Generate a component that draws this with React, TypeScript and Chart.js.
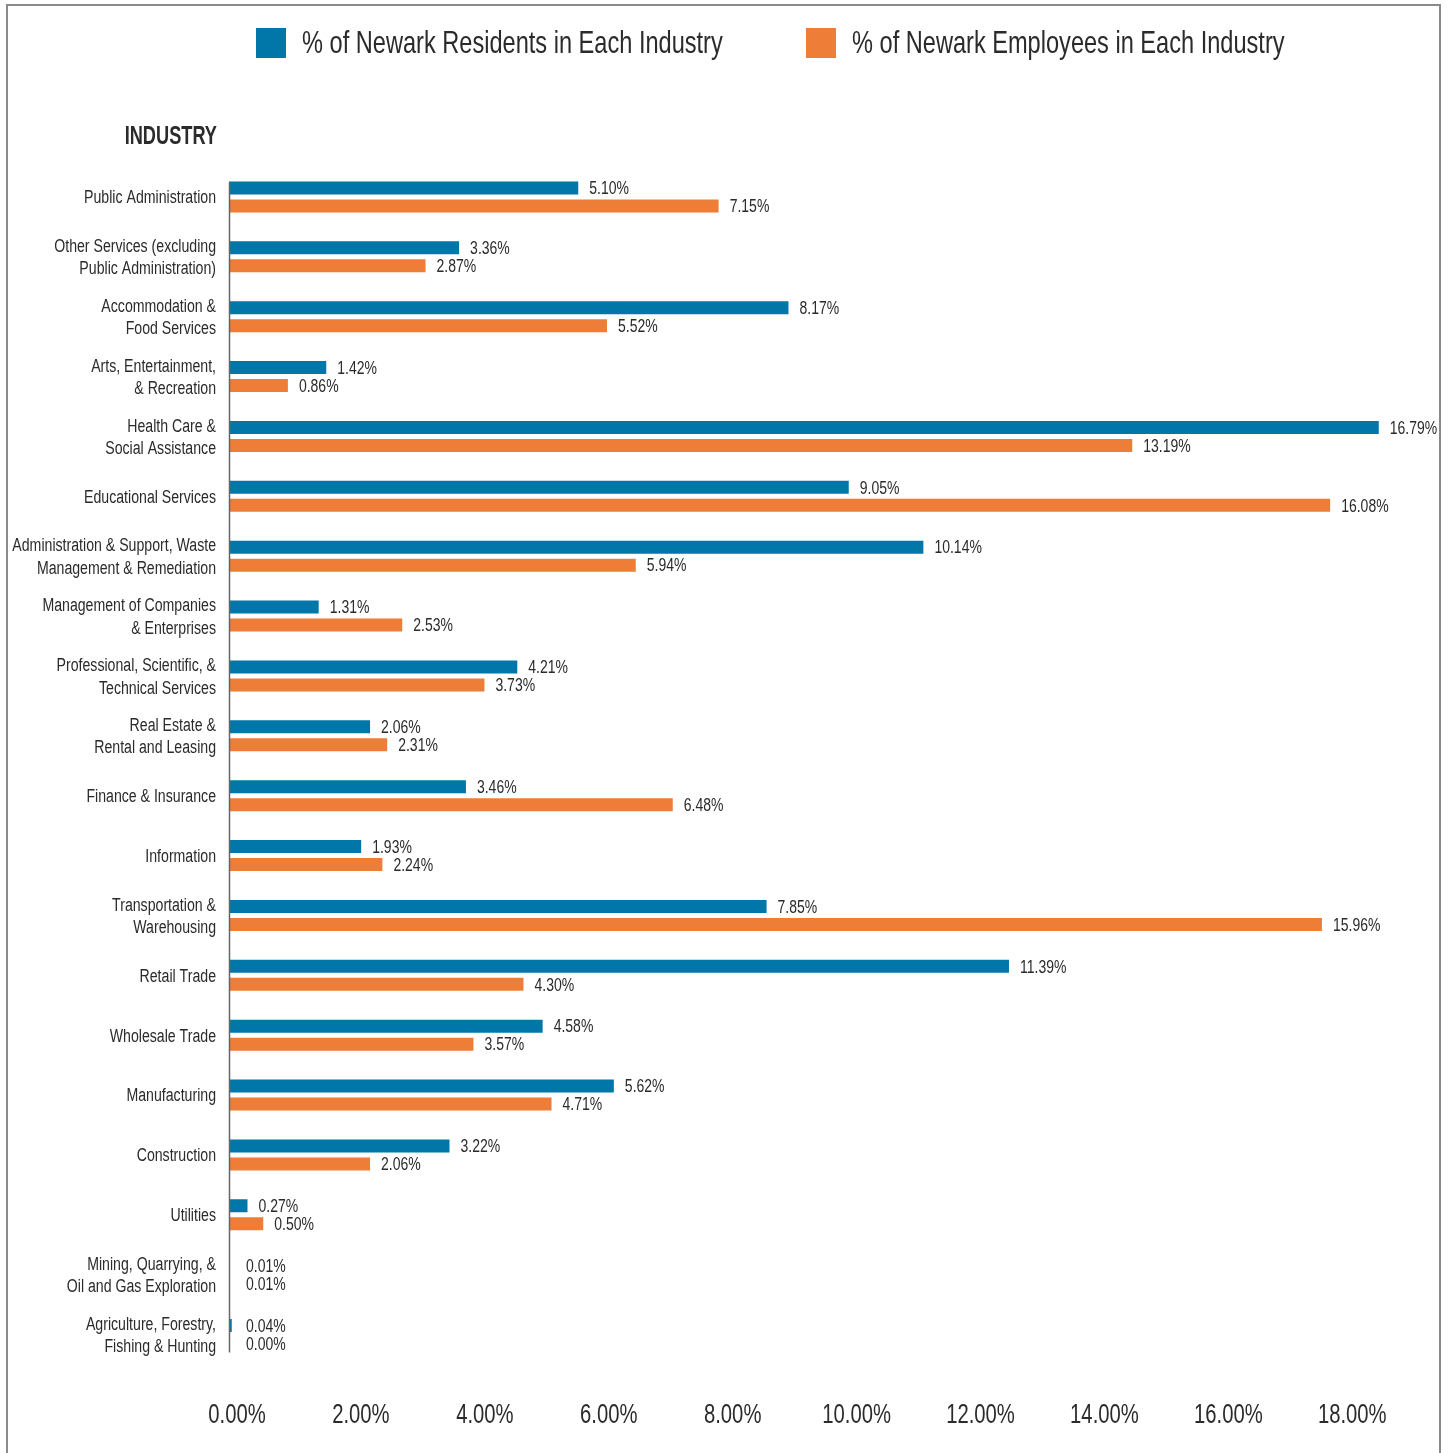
import React, { useEffect, useRef } from 'react';
import { Chart, registerables } from 'chart.js';

Chart.register(...registerables);

const CATEGORIES: string[][] = [
  ['Public Administration'],
  ['Other Services (excluding', 'Public Administration)'],
  ['Accommodation &', 'Food Services'],
  ['Arts, Entertainment,', '& Recreation'],
  ['Health Care &', 'Social Assistance'],
  ['Educational Services'],
  ['Administration & Support, Waste', 'Management & Remediation'],
  ['Management of Companies', '& Enterprises'],
  ['Professional, Scientific, &', 'Technical Services'],
  ['Real Estate &', 'Rental and Leasing'],
  ['Finance & Insurance'],
  ['Information'],
  ['Transportation &', 'Warehousing'],
  ['Retail Trade'],
  ['Wholesale Trade'],
  ['Manufacturing'],
  ['Construction'],
  ['Utilities'],
  ['Mining, Quarrying, &', 'Oil and Gas Exploration'],
  ['Agriculture, Forestry,', 'Fishing & Hunting'],
];

const RESIDENTS = [5.10, 3.36, 8.17, 1.42, 16.79, 9.05, 10.14, 1.31, 4.21, 2.06, 3.46, 1.93, 7.85, 11.39, 4.58, 5.62, 3.22, 0.27, 0.01, 0.04];
const EMPLOYEES = [7.15, 2.87, 5.52, 0.86, 13.19, 16.08, 5.94, 2.53, 3.73, 2.31, 6.48, 2.24, 15.96, 4.30, 3.57, 4.71, 2.06, 0.50, 0.01, 0.00];

const SERIES_LABELS = ['% of Newark Residents in Each Industry', '% of Newark Employees in Each Industry'];
const SERIES_COLORS = ['#0077a8', '#ee7d37'];
const AXIS_TICKS = [0, 2, 4, 6, 8, 10, 12, 14, 16, 18];
const AXIS_TITLE = 'INDUSTRY';

const FONT = '"Liberation Sans", Arial, sans-serif';
const TEXT = '#2b2b2b';

// draw horizontally condensed text (mimics a condensed typeface)
function condensedText(
  ctx: CanvasRenderingContext2D,
  text: string,
  x: number,
  y: number,
  size: number,
  sx: number,
  align: CanvasTextAlign,
  bold = false,
) {
  ctx.save();
  ctx.translate(x, y);
  ctx.scale(sx, 1);
  ctx.font = `${bold ? 'bold ' : ''}${size}px ${FONT}`;
  ctx.textAlign = align;
  ctx.textBaseline = 'alphabetic';
  ctx.fillStyle = TEXT;
  ctx.fillText(text, 0, 0);
  ctx.restore();
}

const decorPlugin = {
  id: 'decor',
  beforeDraw(chart: any) {
    const ctx = chart.ctx;
    ctx.save();
    // frame
    ctx.strokeStyle = '#8a8a8a';
    ctx.lineWidth = 2;
    ctx.beginPath();
    ctx.moveTo(7, 1460);
    ctx.lineTo(7, 5);
    ctx.lineTo(1440, 5);
    ctx.lineTo(1440, 1460);
    ctx.stroke();
    // legend
    const boxX = [256, 806];
    chart.data.datasets.forEach((ds: any, i: number) => {
      ctx.fillStyle = ds.backgroundColor;
      ctx.fillRect(boxX[i], 28, 30, 30);
      condensedText(ctx, ds.label, boxX[i] + 46, 53, 32, 0.737, 'left');
    });
    // axis title
    condensedText(ctx, AXIS_TITLE, 217, 144, 26, 0.7, 'right', true);
    ctx.restore();
  },
  afterDatasetsDraw(chart: any) {
    const ctx = chart.ctx;
    const area = chart.chartArea;
    const yScale = chart.scales.y;
    const x2 = chart.scales.x2;
    ctx.save();
    // y axis line
    const first = yScale.getPixelForValue(0);
    const last = yScale.getPixelForValue(CATEGORIES.length - 1);
    ctx.strokeStyle = '#666';
    ctx.lineWidth = 1.5;
    ctx.beginPath();
    ctx.moveTo(area.left + 0.5, first - 14);
    ctx.lineTo(area.left + 0.5, last + 18);
    ctx.stroke();
    // category labels
    const lh = 22.5;
    CATEGORIES.forEach((lines, i) => {
      const cy = yScale.getPixelForValue(i);
      const top = cy - ((lines.length - 1) * lh) / 2;
      lines.forEach((line, j) => {
        condensedText(ctx, line, 216, top + j * lh + 6.4, 18, 0.785, 'right');
      });
    });
    // x tick labels
    AXIS_TICKS.forEach((v) => {
      condensedText(ctx, v.toFixed(2) + '%', x2.getPixelForValue(v), 1422.5, 27, 0.75, 'center');
    });
    // value labels
    chart.data.datasets.forEach((ds: any, di: number) => {
      const meta = chart.getDatasetMeta(di);
      meta.data.forEach((bar: any, i: number) => {
        const v = ds.data[i];
        const x = Math.max(bar.x, area.left + 6) + 11;
        condensedText(ctx, v.toFixed(2) + '%', x, bar.y + 6.3, 17.5, 0.8, 'left');
      });
    });
    ctx.restore();
  },
};

export default function App() {
  const ref = useRef<HTMLCanvasElement>(null);
  useEffect(() => {
    if (!ref.current) return;
    const chart = new Chart(ref.current, {
      type: 'bar',
      data: {
        labels: CATEGORIES,
        datasets: [
          {
            label: SERIES_LABELS[0],
            data: RESIDENTS,
            backgroundColor: SERIES_COLORS[0],
            xAxisID: 'x',
            categoryPercentage: 0.601,
            barPercentage: 0.722,
          },
          {
            label: SERIES_LABELS[1],
            data: EMPLOYEES,
            backgroundColor: SERIES_COLORS[1],
            xAxisID: 'x',
            categoryPercentage: 0.601,
            barPercentage: 0.722,
          },
        ],
      },
      options: {
        indexAxis: 'y',
        animation: false,
        responsive: false,
        devicePixelRatio: 1,
        layout: { padding: { top: 167, right: 48, bottom: 0, left: 0 } },
        plugins: {
          legend: { display: false },
          tooltip: { enabled: false },
        },
        scales: {
          y: {
            type: 'category',
            position: 'left',
            grid: { display: false, drawTicks: false },
            border: { display: false },
            ticks: { display: false, autoSkip: false },
            afterFit(scale: any) {
              scale.width = 229;
            },
          },
          x: {
            type: 'linear',
            display: false,
            min: 0,
            max: 17.1,
          },
          x2: {
            type: 'linear',
            position: 'bottom',
            min: -0.129,
            max: 18.77,
            grid: { display: false, drawTicks: false },
            border: { display: false },
            afterBuildTicks(scale: any) {
              scale.ticks = AXIS_TICKS.map((v) => ({ value: v }));
            },
            ticks: { display: false },
            afterFit(scale: any) {
              scale.height = 88.5;
            },
          },
        },
      },
      plugins: [decorPlugin],
    });
    return () => chart.destroy();
  }, []);
  return (
    <div style={{ position: 'absolute', left: 0, top: 0, width: 1448, height: 1453, overflow: 'hidden', background: '#fff' }}>
      <canvas ref={ref} width={1448} height={1453} style={{ display: 'block' }} />
    </div>
  );
}
